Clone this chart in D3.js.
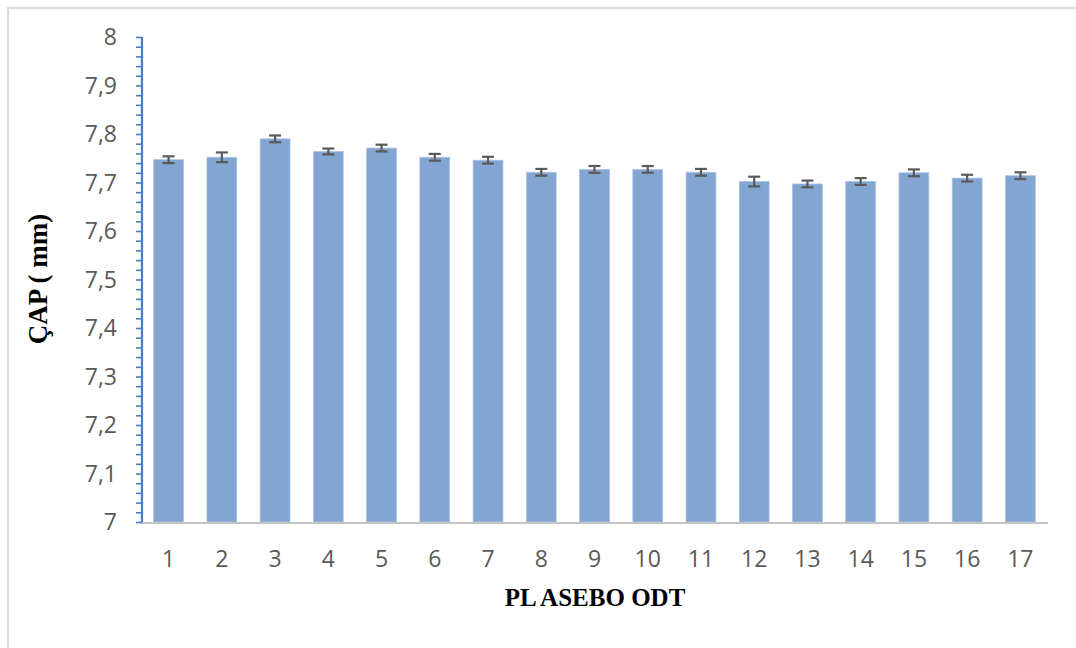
<!DOCTYPE html>
<html>
<head>
<meta charset="utf-8">
<script src="https://cdn.jsdelivr.net/npm/d3@7"></script>
<style>
  html, body { margin: 0; padding: 0; background: #fff; }
  svg { display: block; }
</style>
</head>
<body>
<svg id="chart" width="1076" height="648"></svg>
<script>
// Tablet diameter per sample (mm) with standard deviation
const categories = ["1","2","3","4","5","6","7","8","9","10","11","12","13","14","15","16","17"];
const diameters = [7.747, 7.752, 7.790, 7.764, 7.771, 7.752, 7.746, 7.721, 7.727, 7.727, 7.721, 7.702, 7.697, 7.702, 7.720, 7.709, 7.714];
const deviations = [0.007, 0.010, 0.007, 0.006, 0.007, 0.007, 0.007, 0.007, 0.007, 0.007, 0.007, 0.010, 0.007, 0.007, 0.007, 0.007, 0.007];
const yTicks = [7, 7.1, 7.2, 7.3, 7.4, 7.5, 7.6, 7.7, 7.8, 7.9, 8];
const xTitle = "PL ASEBO ODT";
const yTitle = "ÇAP ( mm)";

const svg = d3.select("#chart");

// outer frame
svg.append("path")
  .attr("d", "M8,648 V8 H1076")
  .attr("fill", "none")
  .attr("stroke", "#d9d9d9")
  .attr("stroke-width", 2);

const plot = { left: 142, right: 1047, top: 37, bottom: 522 };

const x = d3.scaleBand()
  .domain(categories)
  .range([plot.left, plot.right])
  .paddingInner(0.44)
  .paddingOuter(0.22);

const y = d3.scaleLinear()
  .domain([7, 8])
  .range([plot.bottom, plot.top]);

const data = categories.map((c, i) => ({ c, v: diameters[i], e: deviations[i] }));

// bars
svg.append("g").selectAll("rect")
  .data(data)
  .join("rect")
  .attr("x", d => x(d.c))
  .attr("width", x.bandwidth())
  .attr("y", d => y(d.v))
  .attr("height", d => y(7) - y(d.v))
  .attr("fill", "#82a5d1")
  .attr("stroke", "#a9c2e3")
  .attr("stroke-width", 0.8);

// error bars
const eb = svg.append("g")
  .attr("stroke", "#5a5a5a")
  .attr("stroke-width", 2.2)
  .attr("fill", "none");
const capHalf = 6;
data.forEach(d => {
  const cx = x(d.c) + x.bandwidth() / 2;
  eb.append("line").attr("x1", cx).attr("x2", cx)
    .attr("y1", y(d.v + d.e)).attr("y2", y(d.v - d.e));
  eb.append("line").attr("x1", cx - capHalf).attr("x2", cx + capHalf)
    .attr("y1", y(d.v + d.e)).attr("y2", y(d.v + d.e));
  eb.append("line").attr("x1", cx - capHalf).attr("x2", cx + capHalf)
    .attr("y1", y(d.v - d.e)).attr("y2", y(d.v - d.e));
});

// x baseline
svg.append("line")
  .attr("x1", plot.left - 1).attr("x2", plot.right + 1)
  .attr("y1", y(7) + 1).attr("y2", y(7) + 1)
  .attr("stroke", "#c4c4c4")
  .attr("stroke-width", 2.2);

// y axis with minor ticks every 0.02
const yAxis = d3.axisLeft(y)
  .tickValues(d3.range(0, 51).map(i => 7 + i * 0.02))
  .tickSize(6)
  .tickFormat("");
const gy = svg.append("g")
  .attr("transform", `translate(${plot.left},0)`)
  .call(yAxis);
gy.select(".domain").attr("stroke", "#4a7dc4").attr("stroke-width", 2.2)
  .attr("d", `M-0,${plot.top}V${plot.bottom}`);
gy.selectAll(".tick line").attr("stroke", "#4a7dc4").attr("stroke-width", 1.6);

// y tick labels
const fmt = v => d3.format(".1f")(v).replace(".", ",").replace(",0", "");
svg.append("g").selectAll("text")
  .data(yTicks)
  .join("text")
  .attr("x", 117)
  .attr("y", d => y(d))
  .attr("dy", "0.36em")
  .attr("text-anchor", "end")
  .attr("font-family", "Open Sans, sans-serif")
  .attr("font-size", 23)
  .attr("fill", "#595959")
  .text(d => fmt(d));

// x tick labels
svg.append("g").selectAll("text")
  .data(categories)
  .join("text")
  .attr("x", d => x(d) + x.bandwidth() / 2)
  .attr("y", 567)
  .attr("text-anchor", "middle")
  .attr("font-family", "Open Sans, sans-serif")
  .attr("font-size", 23)
  .attr("fill", "#595959")
  .text(d => d);

// axis titles
svg.append("text")
  .attr("x", 595)
  .attr("y", 606)
  .attr("text-anchor", "middle")
  .attr("font-family", "Liberation Serif, Times New Roman, serif")
  .attr("font-weight", "bold")
  .attr("font-size", 25)
  .attr("fill", "#000")
  .text(xTitle);

svg.append("text")
  .attr("transform", "translate(47,279) rotate(-90)")
  .attr("text-anchor", "middle")
  .attr("font-family", "Liberation Serif, Times New Roman, serif")
  .attr("font-weight", "bold")
  .attr("font-size", 27)
  .attr("fill", "#000")
  .text(yTitle);
</script>
</body>
</html>
